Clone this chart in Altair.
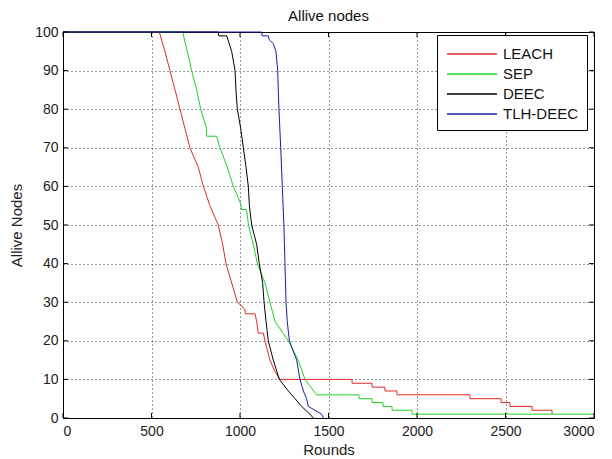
import altair as alt
import pandas as pd

# ---- data ----
leach_rounds = [0, 544, 576, 604, 633, 661, 689, 717, 764, 793, 830, 877, 902, 921, 953, 985, 1010, 1028, 1030, 1085, 1094, 1103, 1132, 1141, 1169, 1198, 1226, 1633, 1633, 1746, 1746, 1819, 1819, 1887, 1887, 2299, 2299, 2475, 2475, 2525, 2525, 2650, 2650, 2763, 2763]
leach_nodes  = [100, 100, 95, 90, 85, 80, 75, 70, 65, 60, 55, 50, 45, 40, 35, 30, 29, 28, 27, 27, 25, 22, 22, 20, 15, 12, 10, 10, 9, 9, 8, 8, 7, 7, 6, 6, 5, 5, 4, 4, 3, 3, 2, 2, 1]

sep_rounds = [0, 676, 702, 727, 755, 778, 811, 811, 868, 887, 928, 962, 1000, 1009, 1037, 1048, 1075, 1098, 1141, 1169, 1198, 1273, 1329, 1367, 1433, 1672, 1672, 1746, 1746, 1808, 1808, 1859, 1859, 1972, 1972, 3000]
sep_nodes  = [100, 100, 95, 90, 85, 80, 75, 73, 73, 70, 65, 60, 56, 54, 54, 50, 45, 40, 35, 30, 25, 20, 15, 10, 6, 6, 5, 5, 4, 4, 3, 3, 2, 2, 1, 1]

deec_rounds = [0, 877, 880, 925, 953, 972, 977, 985, 1004, 1019, 1034, 1047, 1053, 1066, 1094, 1109, 1128, 1136, 1147, 1160, 1188, 1222, 1273, 1311, 1348, 1395, 1414]
deec_nodes  = [100, 100, 99, 99, 95, 90, 85, 80, 75, 70, 65, 60, 55, 50, 45, 40, 35, 30, 25, 20, 15, 10, 7, 5, 3, 1, 0]

tlh_rounds = [0, 1122, 1125, 1160, 1165, 1188, 1203, 1213, 1220, 1230, 1239, 1248, 1254, 1260, 1267, 1279, 1320, 1339, 1358, 1376, 1386, 1461, 1471]
tlh_nodes  = [100, 100, 99, 99, 98, 97, 95, 90, 80, 70, 60, 50, 40, 30, 25, 20, 15, 10, 7, 5, 3, 1, 0]

series_names = ["LEACH", "SEP", "DEEC", "TLH-DEEC"]
series_colors = ["#e02a2a", "#22d022", "#000000", "#1c1ca8"]

x_ticks = [0, 500, 1000, 1500, 2000, 2500, 3000]
y_ticks = [0, 10, 20, 30, 40, 50, 60, 70, 80, 90, 100]

rows = []
for name, rr, nn in zip(series_names,
                        [leach_rounds, sep_rounds, deec_rounds, tlh_rounds],
                        [leach_nodes, sep_nodes, deec_nodes, tlh_nodes]):
    for i, (r, n) in enumerate(zip(rr, nn)):
        rows.append({"series": name, "order": i, "Rounds": r, "Nodes": n})
df = pd.DataFrame(rows)

W, H = 531, 386
FONT = "Liberation Sans"

xs = alt.Scale(domain=[0, 3000], nice=False, zero=False)
ys = alt.Scale(domain=[0, 100], nice=False, zero=False)
x_axis = alt.Axis(values=x_ticks, format="d", title="Rounds", grid=True, tickSize=0,
                  labelPadding=6, titlePadding=4, labelOverlap=False)
y_axis = alt.Axis(values=y_ticks, format="d", title="Allive Nodes", grid=True, tickSize=0,
                  labelPadding=5, titlePadding=10, labelOverlap=False)

lines = alt.Chart(df).mark_line(strokeWidth=1).encode(
    x=alt.X("Rounds:Q", scale=xs, axis=x_axis),
    y=alt.Y("Nodes:Q", scale=ys, axis=y_axis),
    color=alt.Color("series:N",
                    scale=alt.Scale(domain=series_names, range=series_colors),
                    legend=alt.Legend(title=None)),
    order="order:Q",
)

xt = pd.DataFrame({"t": x_ticks})
yt = pd.DataFrame({"t": y_ticks})
tick_style = dict(color="black", strokeWidth=1)
tick_b = alt.Chart(xt).mark_rule(**tick_style).encode(
    x=alt.X("t:Q", scale=xs, axis=x_axis), y=alt.value(H), y2=alt.value(H - 5))
tick_t = alt.Chart(xt).mark_rule(**tick_style).encode(
    x=alt.X("t:Q", scale=xs, axis=x_axis), y=alt.value(0), y2=alt.value(5))
tick_l = alt.Chart(yt).mark_rule(**tick_style).encode(
    y=alt.Y("t:Q", scale=ys, axis=y_axis), x=alt.value(0), x2=alt.value(5))
tick_r = alt.Chart(yt).mark_rule(**tick_style).encode(
    y=alt.Y("t:Q", scale=ys, axis=y_axis), x=alt.value(W), x2=alt.value(W - 5))

chart = alt.layer(lines, tick_b, tick_t, tick_l, tick_r).properties(
    width=W, height=H,
    title=alt.TitleParams("Allive nodes", fontSize=15, font=FONT, fontWeight="normal",
                          color="#111", offset=4, dy=3),
    autosize=alt.AutoSizeParams(type="none"),
    padding={"left": 55, "top": 24, "right": 10, "bottom": 42},
).configure_view(
    stroke="black", strokeWidth=1
).configure_axis(
    labelFont=FONT, labelFontSize=14, labelColor="#222",
    titleFont=FONT, titleFontSize=15, titleColor="#222", titleFontWeight="normal",
    domain=False, gridColor="#000", gridDash=[1, 3], gridOpacity=0.8, gridWidth=1,
).configure_legend(
    orient="none", legendX=374, legendY=3,
    strokeColor="black", fillColor="white", padding=8,
    symbolType="M-2.5,0H2.5", symbolSize=400, symbolStrokeWidth=1.5, symbolOffset=16,
    labelFont=FONT, labelFontSize=15, labelColor="#111", rowPadding=1,
    labelOffset=20,
)

chart.save("out.html", embed_options={"renderer": "svg", "actions": False})
